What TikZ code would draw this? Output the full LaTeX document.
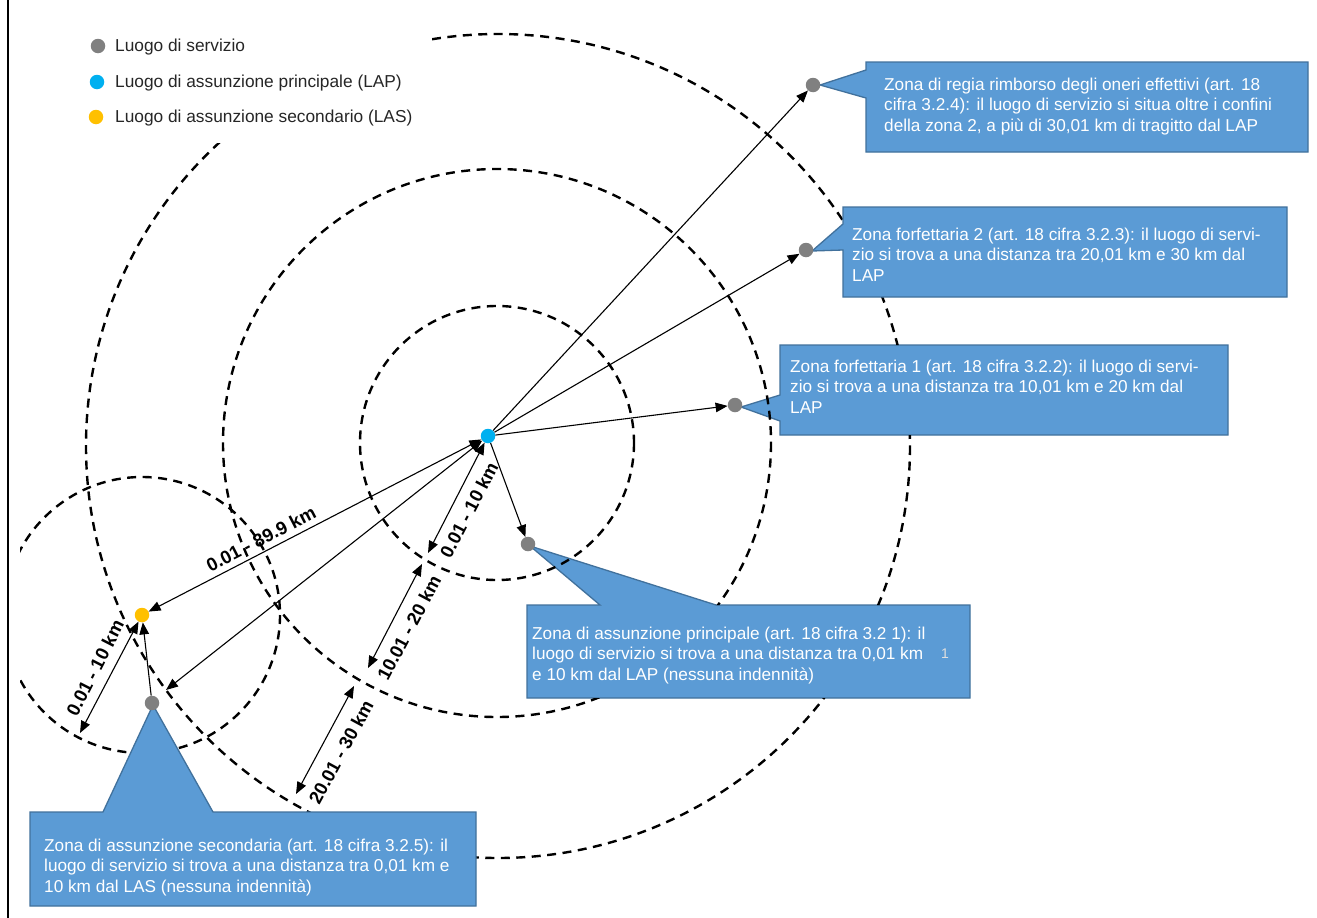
\documentclass[tikz,border=0pt]{standalone}
\usepackage{fontspec}
\setmainfont{Liberation Sans}
\usetikzlibrary{arrows.meta}
\definecolor{callblue}{HTML}{5B9BD5}
\definecolor{callborder}{HTML}{41719C}
\definecolor{dotgray}{HTML}{808080}
\definecolor{dotblue}{HTML}{00B0F0}
\definecolor{dotyellow}{HTML}{FFC000}
\definecolor{legink}{HTML}{262626}
\newcommand{\firstline}{\rule{0pt}{12.5pt}}
\tikzset{
  zone/.style={draw=black, line width=2.4pt, dash pattern=on 9pt off 6.5pt},
  arr/.style={line width=1.1pt, -{Triangle[length=12pt,width=9.5pt]}},
  darr/.style={line width=1.1pt, {Triangle[length=12pt,width=9.5pt]}-{Triangle[length=12pt,width=9.5pt]}},
  dot/.style={circle, fill=#1, minimum size=14.5pt, inner sep=0pt},
  callout/.style={fill=callblue, draw=callborder, line width=1.3pt, line join=miter},
  calltext/.style={text=white, font=\fontsize{17.2}{20.6}\selectfont, align=left, anchor=north west, inner sep=0pt},
  dimlabel/.style={font=\bfseries\fontsize{18.5}{18.5}\selectfont, inner sep=0pt},
  legtext/.style={font=\fontsize{17.3}{17.3}\selectfont, anchor=west, text=legink, inner sep=0pt}
}
\begin{document}
\begin{tikzpicture}[x=1pt,y=-1pt]
\useasboundingbox (0,0) rectangle (1317,918);
\fill[white] (0,0) rectangle (1317,918);
% callouts lying below the zone circles
\draw[callout] (780,345) -- (1228,345) -- (1228,435) -- (780,435) -- (780,421) -- (741,407) -- (780,395) -- cycle;
\draw[callout] (527,605) -- (600,605) -- (530,546) -- (716,605) -- (970,605) -- (970,698) -- (527,698) -- cycle;
% zones (hidden by the two boxes above)
\begin{scope}[even odd rule]
\clip (20,0) rectangle (1317,918) (780,345) rectangle (1228,435) (527,605) rectangle (970,698);
\coordinate (C) at (497,443);
\coordinate (Cout) at (498,446);
\draw[zone] (C) circle[radius=137];
\draw[zone] (C) circle[radius=274];
\draw[zone] (Cout) circle[radius=412];
\draw[zone] (142,615) circle[radius=138];
\end{scope}
% legend background
\fill[white] (70,18) rectangle (432,143);
% left frame line
\draw[line width=2pt] (8,0) -- (8,918);
% callouts lying above the zone circles
\draw[callout] (866,62) -- (1308,62) -- (1308,152) -- (866,152) -- (866,98) -- (820,85) -- (866,70) -- cycle;
\draw[callout] (843,207) -- (1287,207) -- (1287,297) -- (843,297) -- (843,250) -- (812,251) -- (843,224) -- cycle;
\draw[callout] (30,812) -- (103,812) -- (153,705) -- (213,812) -- (476,812) -- (476,906) -- (30,906) -- cycle;
% callout texts
\node[calltext] (t1) at (884,77.5) {\firstline Zona di regia rimborso degli oneri effettivi (art. 18\\cifra 3.2.4): il luogo di servizio si situa oltre i confini\\della zona 2, a più di 30,01 km di tragitto dal LAP};
\node[calltext] (t2) at (852,227.5) {\firstline Zona forfettaria 2 (art. 18 cifra 3.2.3): il luogo di servi-\\zio si trova a una distanza tra 20,01 km e 30 km dal\\LAP};
\node[calltext] (t3) at (790,359.5) {\firstline Zona forfettaria 1 (art. 18 cifra 3.2.2): il luogo di servi-\\zio si trova a una distanza tra 10,01 km e 20 km dal\\LAP};
\node[calltext] (t4) at (532,626.5) {\firstline Zona di assunzione principale (art. 18 cifra 3.2 1): il\\luogo di servizio si trova a una distanza tra 0,01 km\\e 10 km dal LAP (nessuna indennità)};
\node[calltext] (t5) at (44,838.5) {\firstline Zona di assunzione secondaria (art. 18 cifra 3.2.5): il\\luogo di servizio si trova a una distanza tra 0,01 km e\\10 km dal LAS (nessuna indennità)};
\node[text=white!75!gray, font=\fontsize{14}{14}\selectfont, inner sep=0pt] (stray) at (945,654) {1};
% points
\node[dot=dotblue] (lap) at (488,436) {};
\node[dot=dotyellow] (las) at (142,615) {};
\node[dot=dotgray] (s1) at (813,85) {};
\node[dot=dotgray] (s2) at (806,250) {};
\node[dot=dotgray] (s3) at (735,405) {};
\node[dot=dotgray] (s4) at (528,544) {};
\node[dot=dotgray] (s5) at (152,703) {};
% free ends of dimension arrows
\coordinate (e2) at (166,690);
\coordinate (d1) at (428,553);
\coordinate (d2a) at (422,564);
\coordinate (d2b) at (368,668);
\coordinate (d3a) at (354,686);
\coordinate (d3b) at (296,794);
\coordinate (d5) at (80,733);
% connectors
\draw[arr] (lap) -- (s1);
\draw[arr] (lap) -- (s2);
\draw[arr] (lap) -- (s3);
\draw[arr] (lap) -- (s4);
\draw[darr] (lap) -- (las);
\draw[darr] (lap) -- (e2);
\draw[darr] (lap) -- (d1);
\draw[darr] (d2a) -- (d2b);
\draw[darr] (d3a) -- (d3b);
\draw[darr] (las) -- (d5);
\draw[arr] (s5) -- (las);
% dimension labels
\node[dimlabel, rotate=62.5] (l1) at (469,510) {0.01 - 10 km};
\node[dimlabel, rotate=62] (l2) at (409,628) {10.01 - 20 km};
\node[dimlabel, rotate=61.5] (l3) at (341,752) {20.01 - 30 km};
\node[dimlabel, rotate=27.4] (l4) at (261,539) {0.01 - 89.9 km};
\node[dimlabel, rotate=63] (l5) at (95,668) {0.01 - 10 km};
% legend
\node[dot=dotgray] (lg1) at (98,46) {};
\node[dot=dotblue] (lg2) at (97,82) {};
\node[dot=dotyellow] (lg3) at (96,117) {};
\node[legtext] (lt1) at (115,47) {Luogo di servizio};
\node[legtext] (lt2) at (115,83) {Luogo di assunzione principale (LAP)};
\node[legtext] (lt3) at (115,118) {Luogo di assunzione secondario (LAS)};
\end{tikzpicture}
\end{document}
